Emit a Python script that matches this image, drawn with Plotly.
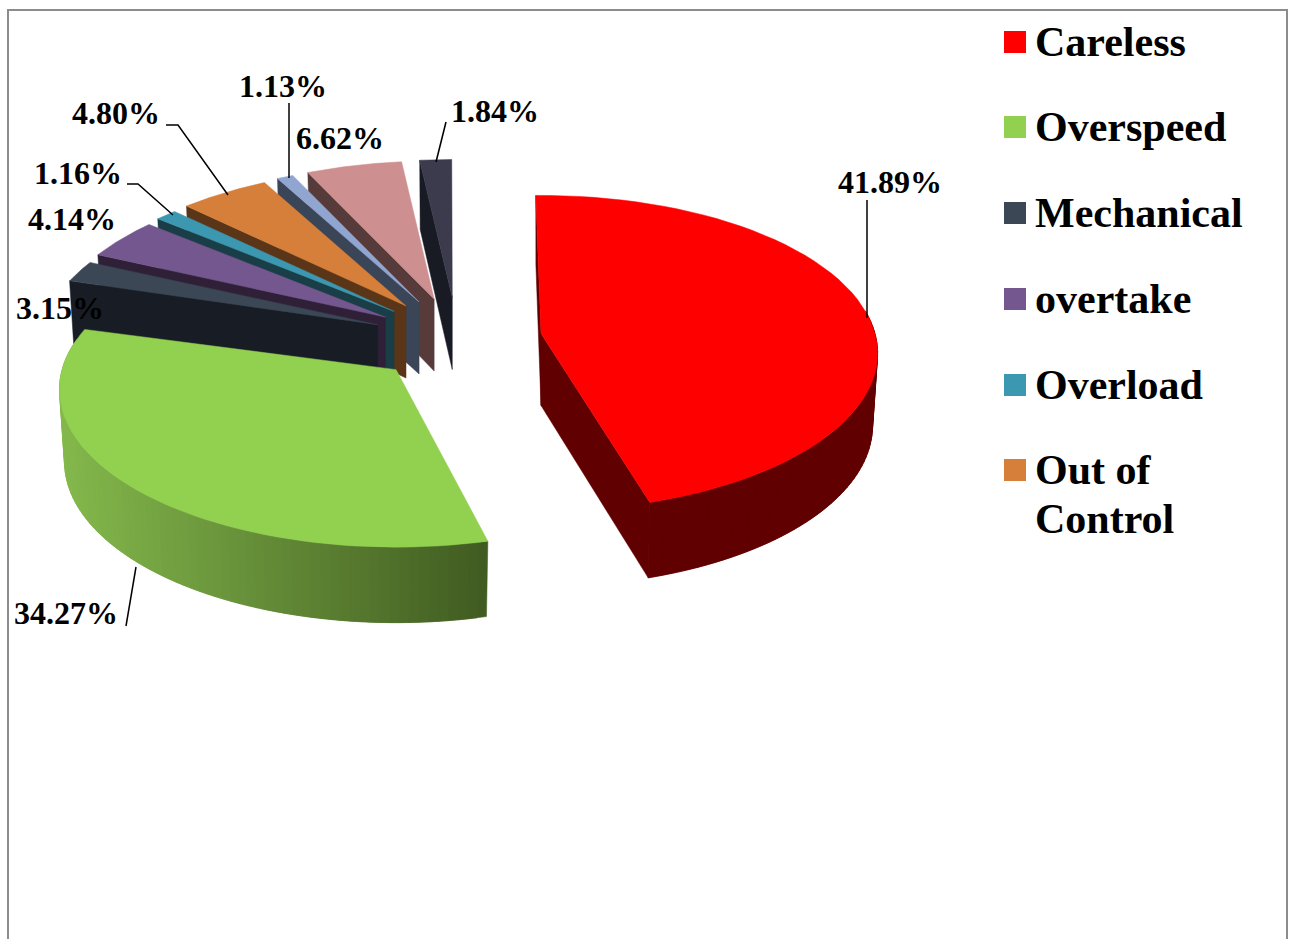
import numpy as np
import plotly.graph_objects as go

# shares (percent) clockwise from the top; they add up to 99 as printed on the chart
shares = [41.89, 34.27, 3.15, 4.14, 1.16, 4.80, 1.13, 6.62, 1.84]
legend_rows = ['Careless', 'Overspeed', 'Mechanical', 'overtake', 'Overload', 'Out of<br>Control']

top_colors = ['#ff0000', '#92d050', '#3b4754', '#73578e', '#3c97b0', '#d67f3a', '#90a5cf', '#cd8f8f', '#3b3b4d']
wall_colors = ['#600000', '#3f5a20', '#181c24', '#2f2038', '#1a3e48', '#5a3517', '#3a4558', '#573a3a', '#181a24']

# label text, centre and leader line for each slice
label_text = ['41.89%', '34.27%', '3.15%', '4.14%', '1.16%', '4.80%', '1.13%', '6.62%', '1.84%']
label_x = [890, 66, 60, 72, 78, 116, 283, 340, 495]
label_y = [182, 613, 308, 219, 173, 113, 86, 138, 111]
leaders = [[(867, 200), (867, 318)], [(126, 626), (136, 567)], None, None,
           [(127, 184), (138, 184), (173, 215)], [(166, 125), (178, 125), (228, 195)],
           [(289, 103), (289, 178)], None, [(446, 122), (436, 162)]]

# pie view settings, in pixels
cx, cy = 457, 340
radius = 334
tilt = 0.465
persp = 0.125
explode = 85
explode_tilt = 0.5
depth = 72
base_x = 0.985
base_y = 1.02
# the 3-D view squeezes the back of the pie: true angle -> angle on the plane
view_true = [0, 152.3, 276.9, 288.4, 325.1, 353.3, 360]
view_drawn = [-1, 165, 287, 295, 331.9, 353.7, 359.9]


def rim(apex, deg, base=False):
    t = np.radians(deg)
    u, v = np.sin(t), -np.cos(t)
    w = 1 / (1 - persp * v)
    if base:
        return apex[0] + base_x * radius * u * w, apex[1] + depth + base_y * radius * tilt * v * w
    return apex[0] + radius * u * w, apex[1] + radius * tilt * v * w


def poly(xs, ys, color):
    return go.Scatter(x=xs, y=ys, mode='lines', fill='toself', fillcolor=color,
                      line=dict(color=color, width=0.5), hoverinfo='skip', showlegend=False)


def shade(c1, c2, f):
    a = [int(c1[i:i + 2], 16) for i in (1, 3, 5)]
    b = [int(c2[i:i + 2], 16) for i in (1, 3, 5)]
    return 'rgb(%d,%d,%d)' % tuple(round(p + (q - p) * f) for p, q in zip(a, b))


edges = np.cumsum([0] + shares) / sum(shares) * 360
start = np.interp(edges[:-1], view_true, view_drawn)
end = np.interp(edges[1:], view_true, view_drawn)
# the two big slices do not quite meet on the same ray in the original view
end[0] -= 1.7
start[1] += 1.0
end[1] -= 1.5

fig = go.Figure()

# back slices first, so Overspeed ends up in front of the small ones
for i in [0, 8, 7, 6, 5, 4, 3, 2, 1]:
    mid = np.radians((start[i] + end[i]) / 2)
    apex = (cx + explode * np.sin(mid), cy - explode * explode_tilt * np.cos(mid))
    low = (apex[0], apex[1] + depth)

    # radial walls, only those turned towards the viewer
    walls = []
    if 180 < start[i] % 360 < 360:
        walls.append(start[i])
    if 0 < end[i] < 180:
        walls.append(end[i])
    for edge in walls:
        tx, ty = rim(apex, edge)
        bx, by = rim(apex, edge, base=True)
        fig.add_trace(poly([apex[0], tx, bx, low[0], apex[0]], [apex[1], ty, by, low[1], apex[1]], wall_colors[i]))

    # outer wall, only the part facing the viewer
    degs = np.arange(start[i], end[i], 1.5)
    degs = degs[(degs > 80) & (degs < 280)]
    if len(degs) > 1:
        for a in degs:
            b = min(a + 3.0, end[i])
            x1, y1 = rim(apex, a)
            x2, y2 = rim(apex, b)
            x3, y3 = rim(apex, b, base=True)
            x4, y4 = rim(apex, a, base=True)
            if i == 0:
                col = wall_colors[0]
            else:
                col = shade('#84b84c', wall_colors[1], (np.clip((x1 + x2) / 2, 60, 487) - 60) / 427)
            fig.add_trace(poly([x1, x2, x3, x4, x1], [y1, y2, y3, y4, y1], col))

    arc = np.linspace(start[i], end[i], 60)
    xs, ys = rim(apex, arc)
    fig.add_trace(poly([apex[0], *xs, apex[0]], [apex[1], *ys, apex[1]], top_colors[i]))

# leader lines
for line in leaders:
    if line:
        fig.add_trace(go.Scatter(x=[p[0] for p in line], y=[p[1] for p in line], mode='lines',
                                 line=dict(color='black', width=1.5), hoverinfo='skip', showlegend=False))

# slice labels
for text, x, y in zip(label_text, label_x, label_y):
    fig.add_annotation(x=x, y=y, text='<b>' + text + '</b>', showarrow=False, xanchor='center', yanchor='middle',
                       font=dict(family='Liberation Serif', size=32, color='black'))

# legend, drawn by hand since the real one cannot space its rows like this
legend_y = [42, 127, 213, 299, 385, 470]
for name, y, color in zip(legend_rows, legend_y, top_colors):
    fig.add_trace(go.Scatter(x=[1015], y=[y], mode='markers', hoverinfo='skip', showlegend=False,
                             marker=dict(symbol='square', size=22, color=color)))
    for j, part in enumerate(name.split('<br>')):
        fig.add_annotation(x=1033, y=y + j * 49, text='<b>' + part + '</b>', showarrow=False,
                           xanchor='left', yanchor='middle',
                           font=dict(family='Liberation Serif', size=42, color='black'))

# chart border, runs off the bottom of the page
fig.add_trace(go.Scatter(x=[8, 8, 1287, 1287], y=[960, 10, 10, 960], mode='lines',
                         line=dict(color='#8c8c8c', width=2), hoverinfo='skip', showlegend=False))

fig.update_layout(
    width=1294, height=939,
    margin=dict(l=0, r=0, t=0, b=0),
    plot_bgcolor='white', paper_bgcolor='white',
    xaxis=dict(range=[0, 1294], visible=False),
    yaxis=dict(range=[939, 0], visible=False),
    showlegend=False,
)

fig.write_html("out.html", config={'displayModeBar': False}, post_script="document.body.style.margin='0';")
